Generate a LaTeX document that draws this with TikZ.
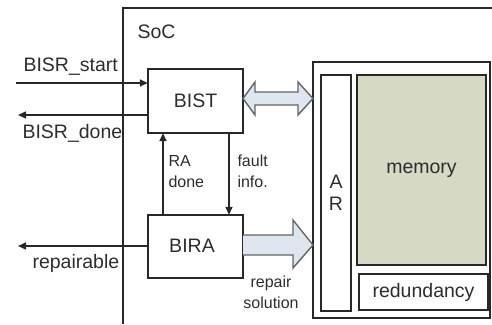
\documentclass[tikz,border=0pt]{standalone}
\usepackage{fontspec}
\setmainfont{Liberation Sans}
\usetikzlibrary{arrows.meta,calc}
\definecolor{ln}{RGB}{40,40,40}
\definecolor{memfill}{RGB}{214,218,196}
\definecolor{busfill}{RGB}{222,230,240}
\definecolor{busline}{RGB}{100,100,100}
\definecolor{txt}{RGB}{45,45,45}
\begin{document}
\begin{tikzpicture}[x=1pt,y=-1pt,
  box/.style={draw=ln,line width=1.5pt,inner sep=0pt},
  big/.style={font=\fontsize{19.5}{22}\selectfont,text=txt},
  small/.style={font=\fontsize{16}{21}\selectfont,text=txt,align=left},
  arr/.style={draw=ln,line width=1.5pt,-{Triangle[length=8pt,width=7pt]}},
  bus/.style={draw=busline,fill=busfill,line width=1.4pt,line join=miter}]
\useasboundingbox (0,0) rectangle (492,324);
% SoC boundary
\draw[ln,line width=1.5pt] (123,324) -- (123,8) -- (493,8);
\node[big,anchor=west] (soc) at (134,31.5) {SoC};
% blocks
\draw[box] (148,69) rectangle (243,133);
\node (bist) at (195.5,101) [minimum width=95pt,minimum height=64pt,inner sep=0pt] {};
\node[big] (bisttxt) at (bist.center) {BIST};
\draw[box] (148,215) rectangle (243,278);
\node (bira) at (195.5,246.5) [minimum width=95pt,minimum height=63pt,inner sep=0pt] {};
\node[big] (biratxt) at (192,245.5) {BIRA};
% memory side
\draw[box] (313,62) rectangle (490,318);
\node (memout) at (401.5,190) [minimum width=177pt,minimum height=256pt,inner sep=0pt] {};
\draw[box] (321,75) rectangle (351,311);
\node[big,align=center] (ar) at (336,193) {A\\R};
\draw[box,fill=memfill] (357,75) rectangle (486,265);
\node[big] (mem) at (421.5,170) {memory};
\draw[box] (359,274) rectangle (488,310);
\node[big] (red) at (423.5,292) {redundancy};
% external signals
\coordinate (bs) at (16,83);
\draw[arr] (bs) -- (bs -| bist.west);
\node[big,anchor=south west] (bstxt) at (20,79) {BISR\_start};
\coordinate (bd) at (18,115);
\draw[arr] (bd -| bist.west) -- (bd);
\node[big,anchor=north west] (bdtxt) at (19,121) {BISR\_done};
\coordinate (rp) at (18,246);
\draw[arr] (rp -| bira.west) -- (rp);
\node[big,anchor=north west] (rptxt) at (29,251) {repairable};
% internal arrows
\coordinate (ra) at (163,0);
\draw[arr] (ra |- bira.north) -- (ra |- bist.south);
\node[small,anchor=north west] (ratxt) at (165,151.5) {RA\\done};
\coordinate (fi) at (229,0);
\draw[arr] (fi |- bist.south) -- (fi |- bira.north);
\node[small,anchor=north west] (fitxt) at (234,151.5) {fault\\info.};
\node[small,align=center,anchor=north] (rstxt) at (271,272) {repair\\solution};
% buses
\draw[bus] (243,98.5) -- (255,82) -- (255,92) -- (298,92) -- (298,82) -- (313,98.5)
  -- (298,115) -- (298,105) -- (255,105) -- (255,115) -- cycle;
\draw[bus] (243,235) -- (293,235) -- (293,220) -- (313,245) -- (293,268) -- (293,255) -- (243,255);
\end{tikzpicture}
\end{document}
